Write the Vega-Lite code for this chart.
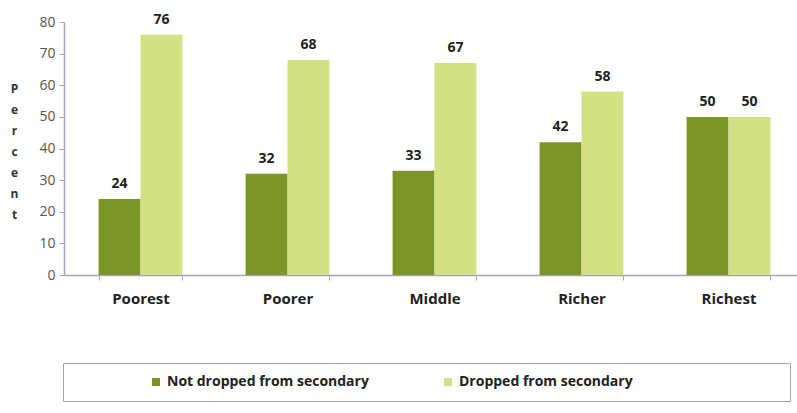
{
  "$schema": "https://vega.github.io/schema/vega-lite/v6.json",
  "width": 741,
  "height": 253,
  "autosize": "none",
  "padding": {"left": 64, "top": 22, "right": 0, "bottom": 138},
  "background": "white",
  "config": {"view": {"stroke": null}, "font": "Open Sans"},
  "data": {
    "values": [
      {"group": "Poorest", "status": "Not dropped from secondary", "value": 24},
      {"group": "Poorest", "status": "Dropped from secondary", "value": 76},
      {"group": "Poorer", "status": "Not dropped from secondary", "value": 32},
      {"group": "Poorer", "status": "Dropped from secondary", "value": 68},
      {"group": "Middle", "status": "Not dropped from secondary", "value": 33},
      {"group": "Middle", "status": "Dropped from secondary", "value": 67},
      {"group": "Richer", "status": "Not dropped from secondary", "value": 42},
      {"group": "Richer", "status": "Dropped from secondary", "value": 58},
      {"group": "Richest", "status": "Not dropped from secondary", "value": 50},
      {"group": "Richest", "status": "Dropped from secondary", "value": 50}
    ]
  },
  "encoding": {
    "x": {
      "field": "group",
      "type": "nominal",
      "sort": ["Poorest", "Poorer", "Middle", "Richer", "Richest"],
      "scale": {"paddingInner": 0.43, "paddingOuter": 0.2354},
      "axis": {
        "title": null,
        "labelAngle": 0,
        "labelFont": "Open Sans",
        "labelFontSize": 15,
        "labelFontWeight": "bold",
        "labelColor": "#222222",
        "labelPadding": 11,
        "tickBand": "extent",
        "tickSize": 5,
        "tickColor": "#a0a8b8",
        "domainColor": "#a0a8b8",
        "domainWidth": 1.5
      }
    },
    "xOffset": {
      "field": "status",
      "type": "nominal",
      "sort": ["Not dropped from secondary", "Dropped from secondary"],
      "scale": {"paddingInner": 0, "paddingOuter": 0}
    },
    "y": {
      "field": "value",
      "type": "quantitative",
      "scale": {"domain": [0, 80], "nice": false},
      "axis": {
        "values": [0, 10, 20, 30, 40, 50, 60, 70, 80],
        "grid": false,
        "title": ["P", "e", "r", "c", "e", "n", "t"],
        "titleAngle": 0,
        "titleX": -50,
        "titleY": 61,
        "titleAlign": "center",
        "titleBaseline": "top",
        "titleFont": "Open Sans",
        "titleFontSize": 12,
        "titleFontWeight": "bold",
        "titleLineHeight": 21,
        "titleColor": "#333333",
        "labelFont": "Open Sans",
        "labelFontSize": 14,
        "labelColor": "#555555",
        "labelPadding": 4,
        "tickSize": 5,
        "tickColor": "#a0a8b8",
        "domainColor": "#a0a8b8",
        "domainWidth": 1.5
      }
    }
  },
  "layer": [
    {
      "mark": {"type": "bar"},
      "encoding": {
        "color": {
          "field": "status",
          "type": "nominal",
          "sort": ["Not dropped from secondary", "Dropped from secondary"],
          "scale": {
            "domain": ["Not dropped from secondary", "Dropped from secondary"],
            "range": ["#7b9529", "#d4e084"]
          },
          "legend": {
            "orient": "none",
            "legendX": -1,
            "legendY": 341,
            "direction": "horizontal",
            "title": "\u00a0",
            "titleOrient": "left",
            "titlePadding": 74,
            "titleFontSize": 12,
            "strokeColor": "#9aa6b8",
            "padding": 12,
            "symbolType": "square",
            "symbolSize": 64,
            "symbolStrokeWidth": 0,
            "labelFont": "Open Sans",
            "labelFontSize": 14,
            "labelFontWeight": "bold",
            "labelColor": "#222222",
            "labelLimit": 600,
            "columnPadding": 72,
            "labelExpr": "datum.label == 'Dropped from secondary' ? datum.label + '\u00a0\u00a0\u00a0\u00a0\u00a0\u00a0\u00a0\u00a0\u00a0\u00a0\u00a0\u00a0\u00a0\u00a0\u00a0\u00a0\u00a0\u00a0\u00a0\u00a0\u00a0\u00a0\u00a0\u00a0\u00a0\u00a0\u00a0\u00a0\u00a0\u00a0\u00a0\u00a0\u00a0\u00a0\u00a0\u00a0\u00a0\u2800' : datum.label"
          }
        }
      }
    },
    {
      "mark": {
        "type": "text",
        "baseline": "bottom",
        "dy": -8,
        "font": "Open Sans",
        "fontSize": 14,
        "fontWeight": "bold",
        "color": "#222222"
      },
      "encoding": {
        "text": {"field": "value", "type": "quantitative"}
      }
    }
  ]
}
